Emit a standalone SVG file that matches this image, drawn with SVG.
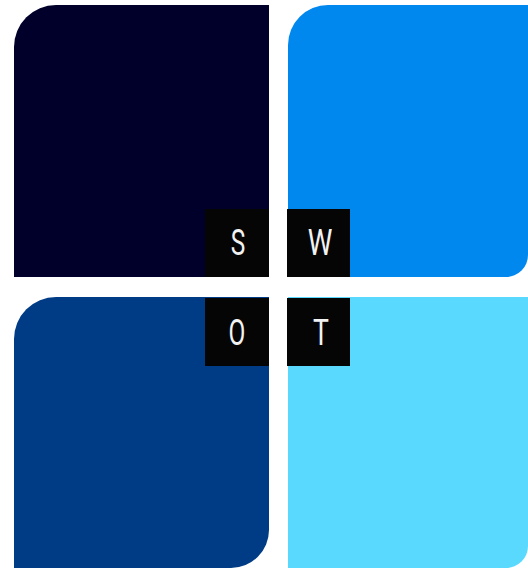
<svg xmlns="http://www.w3.org/2000/svg" width="528" height="568" viewBox="0 0 528 568">
<style>
.box{fill:#050505}
.lbl{fill:#f2f2f2;font-family:Roboto,"Liberation Sans",sans-serif;font-weight:400;font-size:37px;text-anchor:middle}
</style>
<rect width="528" height="568" fill="#ffffff"/>
<g id="strengths">
<path d="M14,47 A42,42 0 0 1 56,5 H269 V277 H14 Z" fill="#00002A"/>
</g>
<g id="weaknesses">
<path d="M288,45 A40,40 0 0 1 328,5 H528 V255 A22,22 0 0 1 506,277 H288 Z" fill="#0088EE"/>
</g>
<g id="opportunities">
<path d="M14,339 A42,42 0 0 1 56,297 H269 V530 A38,38 0 0 1 231,568 H14 Z" fill="#003C85"/>
</g>
<g id="threats">
<path d="M288,297 H528 V546 A22,22 0 0 1 506,568 H288 Z" fill="#5AD9FF"/>
</g>
<g id="label-s">
<rect class="box" x="205" y="209" width="64" height="68"/>
<text class="lbl" transform="translate(238,255) scale(0.66,1)">S</text>
</g>
<g id="label-w">
<rect class="box" x="287" y="209" width="63" height="68"/>
<text class="lbl" transform="translate(320,255) scale(0.75,1)">W</text>
</g>
<g id="label-o">
<rect class="box" x="205" y="298" width="64" height="68"/>
<text class="lbl" transform="translate(237,345) scale(0.66,1)">O</text>
</g>
<g id="label-t">
<rect class="box" x="287" y="298" width="63" height="68"/>
<text class="lbl" transform="translate(321,345) scale(0.72,1)">T</text>
</g>
<g id="connectors"></g>
</svg>
